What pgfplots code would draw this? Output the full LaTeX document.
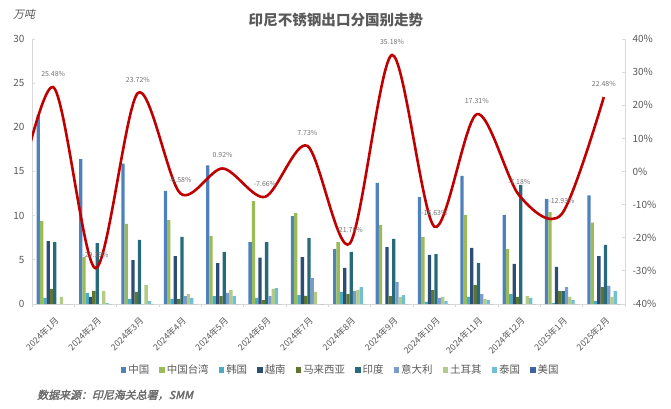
\documentclass[border=0pt]{standalone}
\usepackage{pgfplots}
\usepackage{pgfplotstable}
\pgfplotsset{compat=1.18}
\usepackage{fontspec}
\setmainfont{Noto Sans CJK SC}
\newfontfamily\slantfont{Noto Sans CJK SC}[FakeSlant=0.22]
\newfontfamily\slantbold{Noto Sans CJK SC}[FakeSlant=0.22, FakeBold=2.2]
\definecolor{cCN}{HTML}{4F81BD}
\definecolor{cTW}{HTML}{9BBB59}
\definecolor{cKR}{HTML}{4BACC6}
\definecolor{cVN}{HTML}{2C4D75}
\definecolor{cMY}{HTML}{5F7530}
\definecolor{cIN}{HTML}{276A7C}
\definecolor{cIT}{HTML}{7A9CCB}
\definecolor{cTR}{HTML}{B3CB84}
\definecolor{cTH}{HTML}{70BFD3}
\definecolor{cUS}{HTML}{3B64A0}
\definecolor{txt}{HTML}{595959}
\definecolor{axl}{HTML}{D9D9D9}
\definecolor{lred}{HTML}{C00000}

\pgfplotstableread{
x cn tw kr vn my in it tr th us
0 21.4 9.4 0.68 7.13 1.7 7.0 0 0.8 0 0
1 16.4 5.3 1.25 0.8 1.5 6.9 0 1.5 0.1 0
2 15.9 9.06 0.57 4.98 1.36 7.25 0 2.15 0.34 0
3 12.8 9.5 0.57 5.43 0.57 7.6 0.9 1.13 0.68 0
4 15.7 7.7 0.9 4.64 0.9 5.9 1.25 1.6 0.9 0
5 7.0 11.66 0.68 5.25 0.45 7.0 0.9 1.7 1.8 0
6 9.96 10.3 1.0 5.3 0.92 7.47 2.94 1.36 0 0
7 6.2 7.0 1.36 4.08 1.13 5.9 1.47 1.6 1.92 0
8 13.7 8.94 0 6.45 0.9 7.36 2.5 0.8 1.0 0
9 12.1 7.6 0.23 5.55 1.58 5.66 0.68 0.8 0.34 0
10 14.5 10.1 0.8 6.34 2.15 4.64 1.13 0.57 0.45 0
11 10.1 6.2 1.13 4.53 0.8 13.5 0 0.9 0.68 0
12 11.9 10.4 0.1 4.2 1.47 1.47 1.92 0.8 0.45 0
13 12.3 9.2 0.34 5.43 1.92 6.68 2.04 0.8 1.47 0
}\bardata

\pgfplotstableread{
x y
0 25.48
1 -29.19
2 23.72
3 -6.58
4 0.92
5 -7.66
6 7.73
7 -21.76
8 35.18
9 -16.63
10 17.31
11 -7.18
12 -12.93
13 22.48
}\linedata

\begin{document}
\begin{tikzpicture}[x=1bp,y=1bp]
\useasboundingbox (0,0) rectangle (671,408);
\begin{axis}[
  at={(32bp,104bp)}, anchor=south west,
  scale only axis, width=593bp, height=265bp,
  ymin=0, ymax=30, ytick={0,5,...,30},
  xmin=-0.5, xmax=13.5,
  xtick={0,...,13},
  xticklabels={2024年1月,2024年2月,2024年3月,2024年4月,2024年5月,2024年6月,2024年7月,2024年8月,2024年9月,2024年10月,2024年11月,2024年12月,2025年1月,2025年2月},
  minor xtick={-0.5,0.5,...,13.5},
  axis y line*=left, axis x line*=bottom,
  axis line style={draw=axl, line width=0.8bp},
  every tick/.style={draw=axl, line width=0.8bp},
  major tick length=3bp, minor tick length=3bp,
  major x tick style={draw=none},
  tick align=inside,
  /pgf/number format/assume math mode=true,
  yticklabel style={font=\fontsize{10}{12}\selectfont, text=txt, xshift=-4bp},
  xticklabel style={font=\fontsize{8.8}{10}\selectfont, text=txt, xshift=1bp, yshift=-9bp, rotate=45, anchor=north east, inner sep=0pt},
  ybar=0pt, bar width=3.3bp,
  legend columns=10,
  legend style={at={(0.5205,-0.249)}, anchor=center, draw=none, fill=none,
    font=\fontsize{10.5}{12}\selectfont, text=txt, inner sep=0pt,
    /tikz/every even column/.append style={column sep=8bp}},
  legend image code/.code={\fill[#1] (0bp,-2.8bp) rectangle (5.6bp,2.8bp);},
]
\addplot[fill=cCN, draw=none] table[x=x,y=cn]{\bardata};
\addplot[fill=cTW, draw=none] table[x=x,y=tw]{\bardata};
\addplot[fill=cKR, draw=none] table[x=x,y=kr]{\bardata};
\addplot[fill=cVN, draw=none] table[x=x,y=vn]{\bardata};
\addplot[fill=cMY, draw=none] table[x=x,y=my]{\bardata};
\addplot[fill=cIN, draw=none] table[x=x,y=in]{\bardata};
\addplot[fill=cIT, draw=none] table[x=x,y=it]{\bardata};
\addplot[fill=cTR, draw=none] table[x=x,y=tr]{\bardata};
\addplot[fill=cTH, draw=none] table[x=x,y=th]{\bardata};
\addplot[fill=cUS, draw=none] table[x=x,y=us]{\bardata};
\legend{中国,中国台湾,韩国,越南,马来西亚,印度,意大利,土耳其,泰国,美国}
\end{axis}
\begin{axis}[
  at={(32bp,104bp)}, anchor=south west,
  scale only axis, width=593bp, height=265bp,
  ymin=-40, ymax=40, ytick={-40,-30,...,40},
  xmin=-0.5, xmax=13.5,
  axis x line=none, axis y line*=right,
  axis line style={draw=axl, line width=0.8bp},
  every tick/.style={draw=axl, line width=0.8bp},
  major tick length=3bp, tick align=inside,
  /pgf/number format/assume math mode=true,
  yticklabel={\pgfmathprintnumber{\tick}\%},
  yticklabel style={font=\fontsize{10}{12}\selectfont, text=txt, xshift=4bp},
]
\addplot[smooth, draw=lred, line width=2.6bp, mark=none] coordinates {
(-1,-16) (0,25.48) (1,-29.19) (2,23.72) (3,-6.58) (4,0.92) (5,-7.66) (6,7.73)
(7,-21.76) (8,35.18) (9,-16.63) (10,17.31) (11,-7.18) (12,-12.93) (13,22.48)};
\addplot[draw=none, mark=none, point meta=y,
  nodes near coords={\pgfmathprintnumber[fixed,precision=2,fixed zerofill]{\pgfplotspointmeta}\%},
  every node near coord/.append style={font=\fontsize{7}{8}\selectfont, text=txt!85, anchor=south, yshift=7bp}]
  table[x=x,y=y]{\linedata};
\end{axis}
\node[font=\bfseries\fontsize{14.6}{16}\selectfont, text=txt] at (336,388) {印尼不锈钢出口分国别走势};
\node[font=\slantfont\fontsize{11}{12}\selectfont, text=txt, anchor=west, inner sep=0pt] at (13,394) {万吨};
\node[font=\slantbold\fontsize{11}{12}\selectfont, text=txt!90, anchor=west, inner sep=0pt] at (37,13) {数据来源：印尼海关总署，SMM};
\end{tikzpicture}
\end{document}
